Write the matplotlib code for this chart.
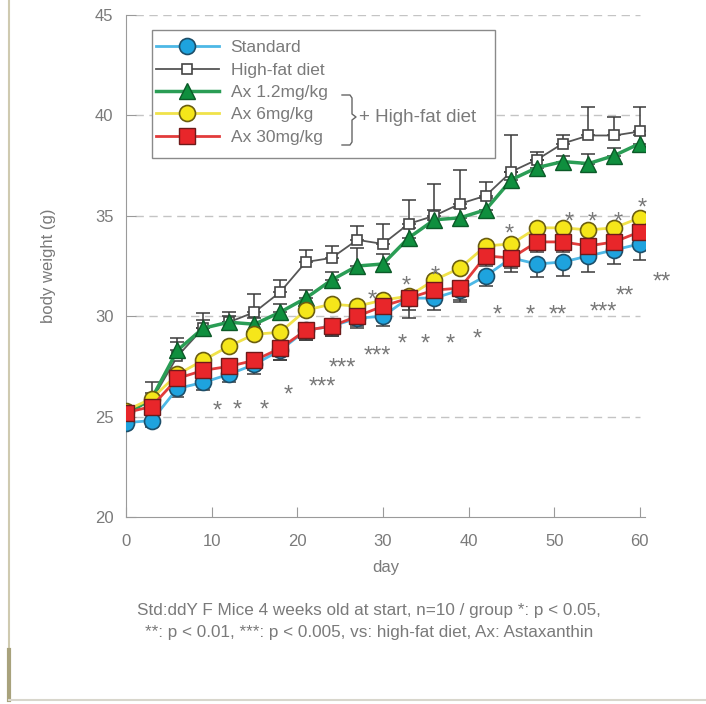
import numpy as np
import matplotlib
matplotlib.use("Agg")
import matplotlib.pyplot as plt
from matplotlib.lines import Line2D
from matplotlib.patches import Rectangle
from matplotlib.transforms import offset_copy

plt.rcParams['font.family'] = ['Liberation Sans', 'DejaVu Sans']

# data
days = [0, 3, 6, 9, 12, 15, 18, 21, 24, 27, 30, 33, 36, 39, 42, 45, 48, 51, 54, 57, 60]
standard = [24.7, 24.8, 26.4, 26.7, 27.1, 27.6, 28.3, 29.3, 29.5, 29.9, 30.0, 30.9, 30.9,
            31.3, 32.0, 32.9, 32.6, 32.7, 33.0, 33.3, 33.6]
high_fat = [25.2, 25.8, 28.0, 29.4, 29.7, 30.2, 31.2, 32.7, 32.9, 33.8, 33.6, 34.6, 35.0,
            35.6, 36.0, 37.2, 37.8, 38.6, 39.0, 39.0, 39.2]
ax12 = [25.1, 25.9, 28.3, 29.4, 29.7, 29.6, 30.2, 30.9, 31.8, 32.5, 32.6, 33.9, 34.8,
        34.9, 35.3, 36.8, 37.4, 37.7, 37.6, 38.0, 38.6]
ax6 = [25.3, 25.9, 27.1, 27.8, 28.5, 29.1, 29.2, 30.3, 30.6, 30.5, 30.8, 31.0, 31.8,
       32.4, 33.5, 33.6, 34.4, 34.4, 34.3, 34.4, 34.9]
ax30 = [25.2, 25.5, 26.9, 27.3, 27.5, 27.8, 28.4, 29.3, 29.5, 30.0, 30.5, 30.9, 31.3,
        31.4, 33.0, 32.9, 33.7, 33.7, 33.5, 33.7, 34.2]

# error bars (one-sided as drawn)
hf_err = [0.2, 0.9, 0.9, 0.75, 0.5, 0.9, 0.6, 0.6, 0.6, 0.7, 1.0, 1.2, 1.6, 1.7, 0.7,
          1.8, 0.4, 0.4, 1.4, 0.9, 1.2]
ax12_err = [0.2, 0.3, 0.4, 0.4, 0.3, 0.3, 0.4, 0.4, 0.4, 0.9, 0.5, 0.5, 0.5, 0.5, 0.6,
            0.4, 0.4, 0.3, 0.5, 0.4, 0.4]
std_err = [0.3, 0.3, 0.4, 0.4, 0.4, 0.5, 0.5, 0.5, 0.5, 0.5, 0.5, 0.6, 0.6, 0.6, 0.5,
           0.7, 0.65, 0.7, 0.8, 0.7, 0.8]
ax30_err = [0.3, 0.3, 0.4, 0.4, 0.4, 0.5, 0.6, 0.5, 0.5, 0.5, 0.5, 1.0, 0.6, 0.6, 0.5,
            0.5, 0.5, 0.5, 0.6, 0.6, 0.6]

# significance marks: (day, weight, text)
sig_marks = [(10.7, 25.7, "*"), (13.0, 25.75, "*"), (16.1, 25.75, "*"), (18.9, 26.5, "*"),
             (22.9, 26.9, "***"), (25.3, 27.8, "***"), (29.3, 28.4, "***"),
             (32.3, 29.0, "*"), (34.9, 29.0, "*"), (37.9, 29.0, "*"), (41.0, 29.25, "*"),
             (43.3, 30.45, "*"), (47.2, 30.45, "*"), (50.4, 30.45, "**"),
             (55.7, 30.6, "***"), (58.2, 31.4, "**"), (62.6, 32.1, "**"),
             (28.7, 31.2, "*"), (32.7, 31.9, "*"), (36.1, 32.4, "*"), (44.8, 34.5, "*"),
             (51.8, 35.1, "*"), (54.4, 35.1, "*"), (57.5, 35.1, "*"), (60.3, 35.8, "*")]

labels = ["Standard", "High-fat diet", "Ax 1.2mg/kg", "Ax 6mg/kg", "Ax 30mg/kg"]

W, H = 706, 704
def fx(x):
    return x / W
def fy(y):
    return (H - y) / H

fig = plt.figure(figsize=(W / 100, H / 100), dpi=100)
ax = fig.add_axes([fx(126), fy(517), 519 / W, 502 / H])
ax.set_xlim(0, 60.6)
ax.set_ylim(20, 45)

grey = '#7a7a7a'
for s in ['top', 'right']:
    ax.spines[s].set_visible(False)
for s in ['left', 'bottom']:
    ax.spines[s].set_color('#9a9a9a')
ax.set_xticks(range(0, 61, 10))
ax.set_yticks(range(20, 46, 5))
ax.tick_params(direction='in', length=7, color='#9a9a9a', labelcolor=grey, labelsize=12)
ax.tick_params(axis='x', pad=12)
ax.tick_params(axis='y', pad=9)
ax.hlines([25, 30, 35, 40, 45], 1.0, 60, colors='#c4c4c4', linestyles=(0, (6, 4)),
          lw=1, zorder=0.5)

ax.set_xlabel("day", color=grey, fontsize=12, labelpad=8)
ax.set_ylabel("body weight (g)", color=grey, fontsize=12, labelpad=28)

ebkw = dict(fmt='none', ecolor='#3a3a3a', elinewidth=1.1, capsize=5, capthick=1.1)
zero = [0] * len(days)
ax.errorbar(days, high_fat, yerr=[zero, hf_err], zorder=2, **ebkw)
ax.errorbar(days, ax12, yerr=[zero, ax12_err], zorder=2, **ebkw)
ax.errorbar(days, standard, yerr=[std_err, zero], zorder=2, **ebkw)
ax.errorbar(days, ax30, yerr=[ax30_err, zero], zorder=2, **ebkw)

styles = [
    dict(color='#4db8e6', lw=2, marker='o', ms=11.5, mfc='#1ea3de', mec='#1d4f6a', mew=1.2),
    dict(color='#555555', lw=1.3, marker='s', ms=7, mfc='white', mec='#444444', mew=1.2),
    dict(color='#2a9d55', lw=2.5, marker='^', ms=12, mfc='#0f8f3e', mec='#0b5a28', mew=1.0),
    dict(color='#f0e24a', lw=2, marker='o', ms=11.5, mfc='#f5e61a', mec='#6b5e10', mew=1.2),
    dict(color='#e23b3b', lw=2, marker='s', ms=11, mfc='#e8262a', mec='#6e1a1a', mew=1.0),
]
series = [standard, high_fat, ax12, ax6, ax30]
zorders = [3.3, 3.0, 3.1, 3.4, 3.5]
for vals, st, z in zip(series, styles, zorders):
    ax.plot(days, vals, zorder=z, **st)

# asterisk glyph sits high in the line box: shift the baseline down so it centres on the value
star_tr = offset_copy(ax.transData, fig=fig, y=-10.5, units='points')
for d, v, t in sig_marks:
    ax.text(d, v, t, color='#777777', fontsize=17, ha='center', va='baseline',
            transform=star_tr, clip_on=False, zorder=4)

# legend box
ax.add_patch(Rectangle((fx(152), fy(158)), 343 / W, 128 / H, transform=fig.transFigure,
                       facecolor='white', edgecolor='#8a8a8a', lw=1, zorder=4.5,
                       clip_on=False))
handles = [Line2D([0], [0], **st) for st in styles]
leg = ax.legend(handles, labels, loc='upper left', bbox_to_anchor=(fx(156), fy(40)),
                bbox_transform=fig.transFigure, frameon=False, borderaxespad=0,
                borderpad=0, handlelength=3.6, handletextpad=0.7, labelspacing=0.42,
                fontsize=12.5)
leg.set_zorder(5)
for t in leg.get_texts():
    t.set_color(grey)

# bracket + "High-fat diet"
bx = [342, 350, 352, 352, 356, 352, 352, 350, 342]
by = [95, 95, 98, 114, 117, 120, 142, 145, 145]
ax.add_line(Line2D([fx(x) for x in bx], [fy(y) for y in by], transform=fig.transFigure,
                   color='#666666', lw=1, zorder=6, clip_on=False))
fig.text(fx(359), fy(117), "+ High-fat diet", color=grey, fontsize=13.5, va='center',
         ha='left', zorder=6)

# caption
fig.text(fx(369), fy(610), "Std:ddY F Mice 4 weeks old at start, n=10 / group *: p < 0.05,",
         color=grey, fontsize=12.3, ha='center', va='center')
fig.text(fx(369), fy(632), "**: p < 0.01, ***: p < 0.005, vs: high-fat diet, Ax: Astaxanthin",
         color=grey, fontsize=12.3, ha='center', va='center')

# page border bits
fig.add_artist(Line2D([fx(9), fx(9)], [fy(0), fy(700)], transform=fig.transFigure,
                      color='#cfcab0', lw=1.5))
fig.add_artist(Line2D([fx(9), fx(9)], [fy(650), fy(700)], transform=fig.transFigure,
                      color='#a8a27c', lw=3))
fig.add_artist(Line2D([fx(9), fx(706)], [fy(700), fy(700)], transform=fig.transFigure,
                      color='#d8d6cc', lw=1.5))

fig.savefig("out.png", dpi=100)
